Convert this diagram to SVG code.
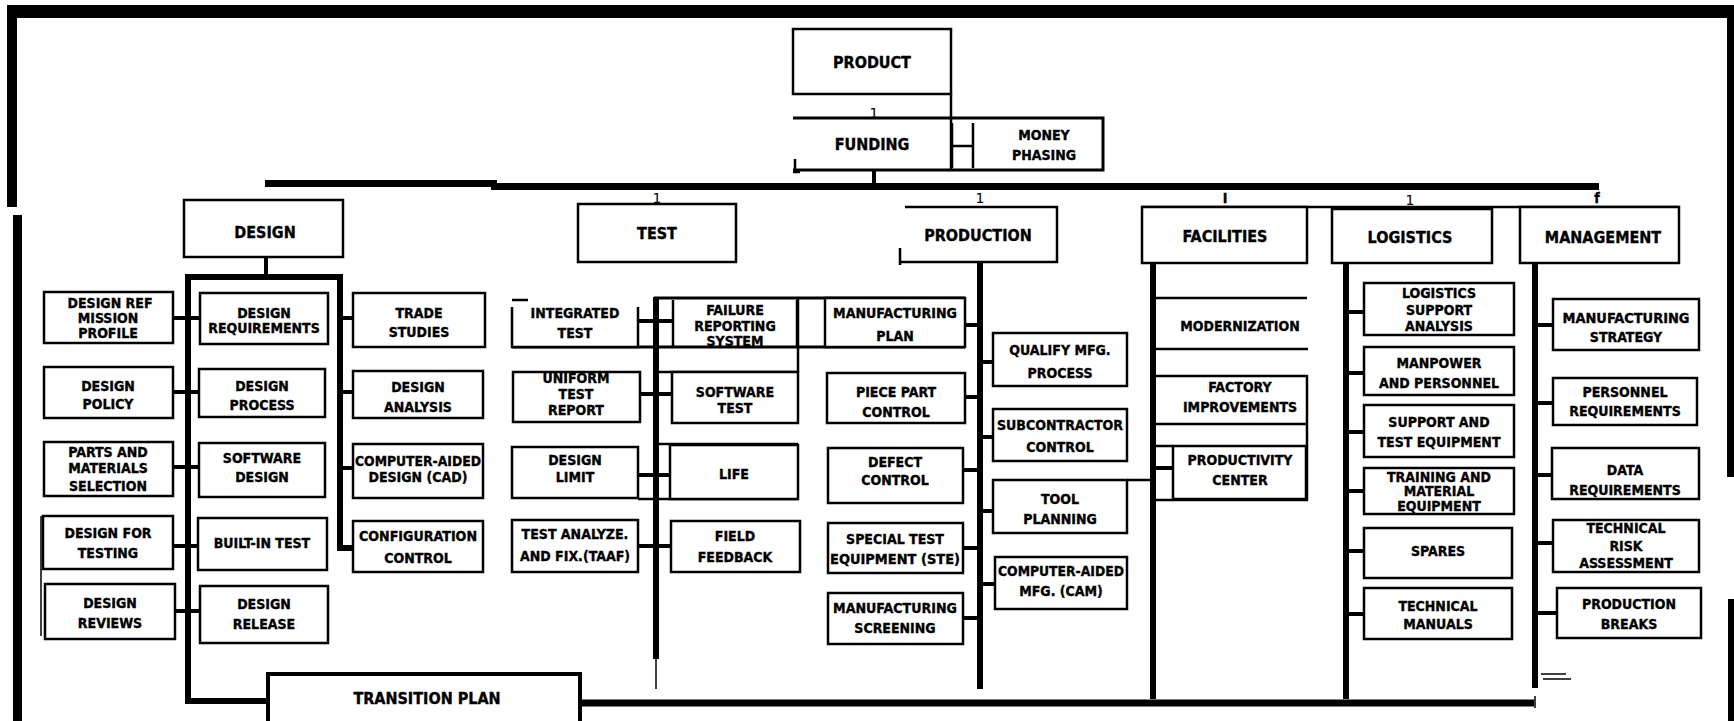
<svg xmlns="http://www.w3.org/2000/svg" width="1734" height="721" viewBox="0 0 1734 721">
<style>
.b{fill:#fff;stroke:#000;stroke-width:2.5}
.t{font-family:"DejaVu Sans Condensed","DejaVu Sans",sans-serif;font-weight:bold;font-size:14px;text-anchor:middle;fill:#000;stroke:#000;stroke-width:0.35}
.big{font-size:16px}
.n{font-family:"DejaVu Sans","Liberation Sans",sans-serif;font-size:14px;text-anchor:middle;fill:#000}
.k{stroke:#000;stroke-width:6;fill:none}
.s{stroke:#000;stroke-width:4;fill:none}
.l{stroke:#000;stroke-width:2.5;fill:none}
.h{stroke:#000;stroke-width:1.5;fill:none}
</style>
<rect width="1734" height="721" fill="#fff"/>
<g id="border" fill="#000">
<rect x="7" y="5" width="1727" height="13"/>
<rect x="7" y="5" width="10" height="202"/>
<rect x="13" y="215" width="9" height="506"/>
<rect x="1727" y="5" width="7" height="472"/>
<rect x="1728" y="599" width="6" height="122"/>
</g>
<g id="connectors">
<rect x="265" y="180" width="232" height="7" fill="#000"/>
<rect x="491" y="183" width="1108" height="7" fill="#000"/>
<line class="s" x1="874" y1="170" x2="874" y2="184"/>
<line class="l" x1="951" y1="94" x2="951" y2="170"/>
<line class="l" x1="952" y1="123" x2="952" y2="168"/>
<line class="l" x1="973" y1="123" x2="973" y2="168"/>
<line class="l" x1="952" y1="146" x2="973" y2="146"/>
<path class="l" d="M795 159 V173 M793 172 H800"/>
<line class="l" x1="1142" y1="207" x2="1679" y2="207"/>
<!-- design -->
<line class="s" x1="266" y1="257" x2="266" y2="277"/>
<path class="k" d="M188 701 V277 H340 V548 H353"/>
<line class="k" x1="185" y1="701" x2="268" y2="701"/>
<path class="s" d="M173 318 H200 M173 392 H199 M173 467 H199 M173 546 H198 M175 611 H200 M343 318 H353 M343 392 H353 M343 468 H353"/>
<line class="h" x1="41" y1="516" x2="41" y2="636"/>
<!-- test -->
<line class="k" x1="656" y1="297" x2="656" y2="659"/>
<line class="h" x1="656" y1="659" x2="656" y2="689"/>
<line stroke="#000" stroke-width="3" x1="654" y1="298" x2="965" y2="298"/>
<line stroke="#000" stroke-width="3" x1="512" y1="347" x2="965" y2="347"/>
<line class="l" x1="798" y1="298" x2="798" y2="372"/>
<path class="l" d="M659 372 H798 M656 444 H798 M638 499 H798 M512 300 H528"/>
<path class="s" d="M638 321 H673 M640 394 H672 M638 475 H670 M638 546 H671"/>
<!-- production -->
<line class="k" x1="980" y1="263" x2="980" y2="689"/>
<path class="s" d="M965 325 H980 M965 397 H980 M963 470 H980 M963 548 H980 M963 618 H980 M980 362 H993 M980 437 H993 M980 511 H993 M980 584 H995"/>
<!-- facilities -->
<line class="k" x1="1153" y1="263" x2="1153" y2="699"/>
<path class="l" d="M1156 298 H1307 M1156 349 H1308 M1156 446 H1173 M1156 500 H1308 M1127 480 H1150"/>
<line class="s" x1="1156" y1="468" x2="1173" y2="468"/>
<!-- logistics -->
<line class="k" x1="1346" y1="263" x2="1346" y2="699"/>
<path class="s" d="M1349 312 H1364 M1349 373 H1364 M1349 432 H1364 M1349 491 H1364 M1349 551 H1364 M1349 614 H1364"/>
<!-- management -->
<line class="k" x1="1535" y1="263" x2="1535" y2="688"/>
<path class="s" d="M1538 325 H1553 M1538 403 H1553 M1538 475 H1552 M1538 543 H1553 M1538 613 H1557"/>
<path class="h" d="M1541 674 H1566 M1543 679 H1571"/>
<!-- transition plan bus -->
<line stroke="#000" stroke-width="7" x1="580" y1="703" x2="1534" y2="703"/>
<line class="h" x1="1535" y1="696" x2="1535" y2="708"/>
</g>

<g id="product"><rect class="b" x="793" y="29" width="158" height="65" stroke-width="3"/><text class="t big" x="872" y="68">PRODUCT</text></g>
<g id="funding">
<path stroke="#000" stroke-width="3" fill="none" d="M793 118 H1103 V170 H793"/>
<text class="n" x="874" y="118">1</text>
<text class="t big" x="872" y="150">FUNDING</text>
</g>
<g id="money-phasing"><text class="t" x="1044" y="140">MONEY</text><text class="t" x="1044" y="160">PHASING</text></g>

<g id="labels-1">
<text class="n" x="657" y="203">1</text>
<text class="n" x="980" y="203">1</text>
<text class="t" x="1225" y="203">I</text>
<text class="n" x="1410" y="205">1</text>
<text class="t" x="1597" y="203">f</text>
</g>

<g id="design"><rect class="b" x="184" y="200" width="159" height="57"/><text class="t big" x="265" y="238">DESIGN</text></g>
<g id="test"><rect class="b" x="578" y="204" width="158" height="58"/><text class="t big" x="657" y="239">TEST</text></g>
<g id="production"><path class="b" fill="none" d="M905 207 H1057 V262 H900 M900 248 V265"/><text class="t big" x="978" y="241">PRODUCTION</text></g>
<g id="facilities"><rect class="b" x="1142" y="207" width="165" height="56"/><text class="t big" x="1225" y="242">FACILITIES</text></g>
<g id="logistics"><rect class="b" x="1332" y="209" width="160" height="54"/><text class="t big" x="1410" y="243">LOGISTICS</text></g>
<g id="management"><rect class="b" x="1520" y="207" width="159" height="56"/><text class="t big" x="1603" y="243">MANAGEMENT</text></g>

<g id="design-ref"><rect class="b" x="44" y="292" width="129" height="51"/><text class="t" x="110" y="308">DESIGN REF</text><text class="t" x="108" y="323">MISSION</text><text class="t" x="108" y="338">PROFILE</text></g>
<g id="design-policy"><rect class="b" x="44" y="367" width="129" height="51"/><text class="t" x="108" y="391">DESIGN</text><text class="t" x="108" y="409">POLICY</text></g>
<g id="parts"><rect class="b" x="44" y="442" width="129" height="54"/><text class="t" x="108" y="457">PARTS AND</text><text class="t" x="108" y="473">MATERIALS</text><text class="t" x="108" y="491">SELECTION</text></g>
<g id="design-testing"><rect class="b" x="43" y="516" width="130" height="53"/><text class="t" x="108" y="538">DESIGN FOR</text><text class="t" x="108" y="558">TESTING</text></g>
<g id="design-reviews"><rect class="b" x="45" y="584" width="130" height="55"/><text class="t" x="110" y="608">DESIGN</text><text class="t" x="110" y="628">REVIEWS</text></g>

<g id="design-req"><rect class="b" x="200" y="293" width="128" height="51"/><text class="t" x="264" y="318">DESIGN</text><text class="t" x="264" y="333">REQUIREMENTS</text></g>
<g id="design-process"><rect class="b" x="199" y="369" width="126" height="48"/><text class="t" x="262" y="391">DESIGN</text><text class="t" x="262" y="410">PROCESS</text></g>
<g id="software-design"><rect class="b" x="199" y="443" width="126" height="54"/><text class="t" x="262" y="463">SOFTWARE</text><text class="t" x="262" y="482">DESIGN</text></g>
<g id="built-in-test"><rect class="b" x="198" y="518" width="129" height="52"/><text class="t" x="262" y="548">BUILT-IN TEST</text></g>
<g id="design-release"><rect class="b" x="200" y="586" width="128" height="57"/><text class="t" x="264" y="609">DESIGN</text><text class="t" x="264" y="629">RELEASE</text></g>

<g id="trade-studies"><rect class="b" x="353" y="293" width="132" height="54"/><text class="t" x="419" y="318">TRADE</text><text class="t" x="419" y="337">STUDIES</text></g>
<g id="design-analysis"><rect class="b" x="353" y="371" width="130" height="47"/><text class="t" x="418" y="392">DESIGN</text><text class="t" x="418" y="412">ANALYSIS</text></g>
<g id="cad"><rect class="b" x="353" y="444" width="130" height="54"/><text class="t" x="418" y="466" textLength="126" lengthAdjust="spacingAndGlyphs">COMPUTER-AIDED</text><text class="t" x="418" y="482">DESIGN (CAD)</text></g>
<g id="config"><rect class="b" x="353" y="521" width="130" height="51"/><text class="t" x="418" y="541" textLength="118" lengthAdjust="spacingAndGlyphs">CONFIGURATION</text><text class="t" x="418" y="563">CONTROL</text></g>

<g id="integrated-test"><path class="b" fill="none" d="M512 307 V347 H638 V307"/><text class="t" x="575" y="318">INTEGRATED</text><text class="t" x="575" y="338">TEST</text></g>
<g id="uniform"><rect class="b" x="513" y="372" width="127" height="50"/><text class="t" x="576" y="383">UNIFORM</text><text class="t" x="576" y="399">TEST</text><text class="t" x="576" y="415">REPORT</text></g>
<g id="design-limit"><rect class="b" x="512" y="447" width="126" height="51"/><text class="t" x="575" y="465">DESIGN</text><text class="t" x="575" y="482">LIMIT</text></g>
<g id="taaf"><rect class="b" x="512" y="520" width="126" height="52"/><text class="t" x="575" y="539">TEST  ANALYZE.</text><text class="t" x="575" y="561">AND FIX.(TAAF)</text></g>

<g id="failure"><path class="b" fill="none" d="M673 300 V347 M797 300 V347"/><text class="t" x="735" y="315">FAILURE</text><text class="t" x="735" y="331">REPORTING</text><text class="t" x="735" y="346">SYSTEM</text></g>
<g id="software-test"><rect class="b" x="672" y="372" width="126" height="51"/><text class="t" x="735" y="397">SOFTWARE</text><text class="t" x="735" y="413">TEST</text></g>
<g id="life"><rect class="b" x="670" y="445" width="128" height="54"/><text class="t" x="734" y="479">LIFE</text></g>
<g id="field-feedback"><rect class="b" x="671" y="521" width="129" height="51"/><text class="t" x="735" y="541">FIELD</text><text class="t" x="735" y="562">FEEDBACK</text></g>

<g id="mfg-plan"><rect class="b" x="825" y="298" width="140" height="49"/><text class="t" x="895" y="318" textLength="124" lengthAdjust="spacingAndGlyphs">MANUFACTURING</text><text class="t" x="895" y="341">PLAN</text></g>
<g id="piece-part"><rect class="b" x="827" y="373" width="138" height="50"/><text class="t" x="896" y="397">PIECE PART</text><text class="t" x="896" y="417">CONTROL</text></g>
<g id="defect"><rect class="b" x="828" y="448" width="135" height="55"/><text class="t" x="895" y="467">DEFECT</text><text class="t" x="895" y="485">CONTROL</text></g>
<g id="ste"><rect class="b" x="828" y="523" width="135" height="50"/><text class="t" x="895" y="544">SPECIAL TEST</text><text class="t" x="895" y="564" textLength="130" lengthAdjust="spacingAndGlyphs">EQUIPMENT (STE)</text></g>
<g id="mfg-screening"><rect class="b" x="828" y="593" width="135" height="51"/><text class="t" x="895" y="613" textLength="124" lengthAdjust="spacingAndGlyphs">MANUFACTURING</text><text class="t" x="895" y="633">SCREENING</text></g>

<g id="qualify"><rect class="b" x="993" y="333" width="134" height="53"/><text class="t" x="1060" y="355">QUALIFY MFG.</text><text class="t" x="1060" y="378">PROCESS</text></g>
<g id="subcontractor"><rect class="b" x="993" y="409" width="134" height="52"/><text class="t" x="1060" y="430" textLength="126" lengthAdjust="spacingAndGlyphs">SUBCONTRACTOR</text><text class="t" x="1060" y="452">CONTROL</text></g>
<g id="tool-planning"><rect class="b" x="993" y="480" width="134" height="53"/><text class="t" x="1060" y="504">TOOL</text><text class="t" x="1060" y="524">PLANNING</text></g>
<g id="cam"><rect class="b" x="995" y="557" width="132" height="52"/><text class="t" x="1061" y="576" textLength="126" lengthAdjust="spacingAndGlyphs">COMPUTER-AIDED</text><text class="t" x="1061" y="596">MFG. (CAM)</text></g>

<g id="modernization"><text class="t" x="1240" y="331">MODERNIZATION</text></g>
<g id="factory"><path class="b" fill="none" d="M1156 376 H1307 V500 M1156 424 H1307"/><text class="t" x="1240" y="392">FACTORY</text><text class="t" x="1240" y="412">IMPROVEMENTS</text></g>
<g id="productivity"><rect class="b" x="1173" y="446" width="133" height="53"/><text class="t" x="1240" y="465">PRODUCTIVITY</text><text class="t" x="1240" y="485">CENTER</text></g>

<g id="lsa"><rect class="b" x="1364" y="283" width="150" height="52"/><text class="t" x="1439" y="298">LOGISTICS</text><text class="t" x="1439" y="315">SUPPORT</text><text class="t" x="1439" y="331">ANALYSIS</text></g>
<g id="manpower"><rect class="b" x="1364" y="347" width="150" height="48"/><text class="t" x="1439" y="368">MANPOWER</text><text class="t" x="1439" y="388">AND PERSONNEL</text></g>
<g id="support-test"><rect class="b" x="1364" y="405" width="150" height="52"/><text class="t" x="1439" y="427">SUPPORT AND</text><text class="t" x="1439" y="447">TEST EQUIPMENT</text></g>
<g id="training"><rect class="b" x="1364" y="468" width="150" height="46"/><text class="t" x="1439" y="482">TRAINING AND</text><text class="t" x="1439" y="496">MATERIAL</text><text class="t" x="1439" y="511">EQUIPMENT</text></g>
<g id="spares"><rect class="b" x="1364" y="528" width="148" height="50"/><text class="t" x="1438" y="556">SPARES</text></g>
<g id="tech-manuals"><rect class="b" x="1364" y="588" width="148" height="51"/><text class="t" x="1438" y="611">TECHNICAL</text><text class="t" x="1438" y="629">MANUALS</text></g>

<g id="mfg-strategy"><rect class="b" x="1553" y="299" width="146" height="51"/><text class="t" x="1626" y="323" textLength="127" lengthAdjust="spacingAndGlyphs">MANUFACTURING</text><text class="t" x="1626" y="342">STRATEGY</text></g>
<g id="personnel-req"><rect class="b" x="1553" y="378" width="144" height="47"/><text class="t" x="1625" y="397">PERSONNEL</text><text class="t" x="1625" y="416">REQUIREMENTS</text></g>
<g id="data-req"><rect class="b" x="1552" y="448" width="147" height="51"/><text class="t" x="1625" y="475">DATA</text><text class="t" x="1625" y="495">REQUIREMENTS</text></g>
<g id="tech-risk"><rect class="b" x="1553" y="520" width="146" height="52"/><text class="t" x="1626" y="533">TECHNICAL</text><text class="t" x="1626" y="551">RISK</text><text class="t" x="1626" y="568">ASSESSMENT</text></g>
<g id="prod-breaks"><rect class="b" x="1557" y="588" width="144" height="50"/><text class="t" x="1629" y="609">PRODUCTION</text><text class="t" x="1629" y="629">BREAKS</text></g>

<g id="transition-plan"><path stroke="#000" stroke-width="4" fill="#fff" d="M268 724 V674 H580 V724"/><text class="t big" x="427" y="704">TRANSITION PLAN</text></g>
</svg>
